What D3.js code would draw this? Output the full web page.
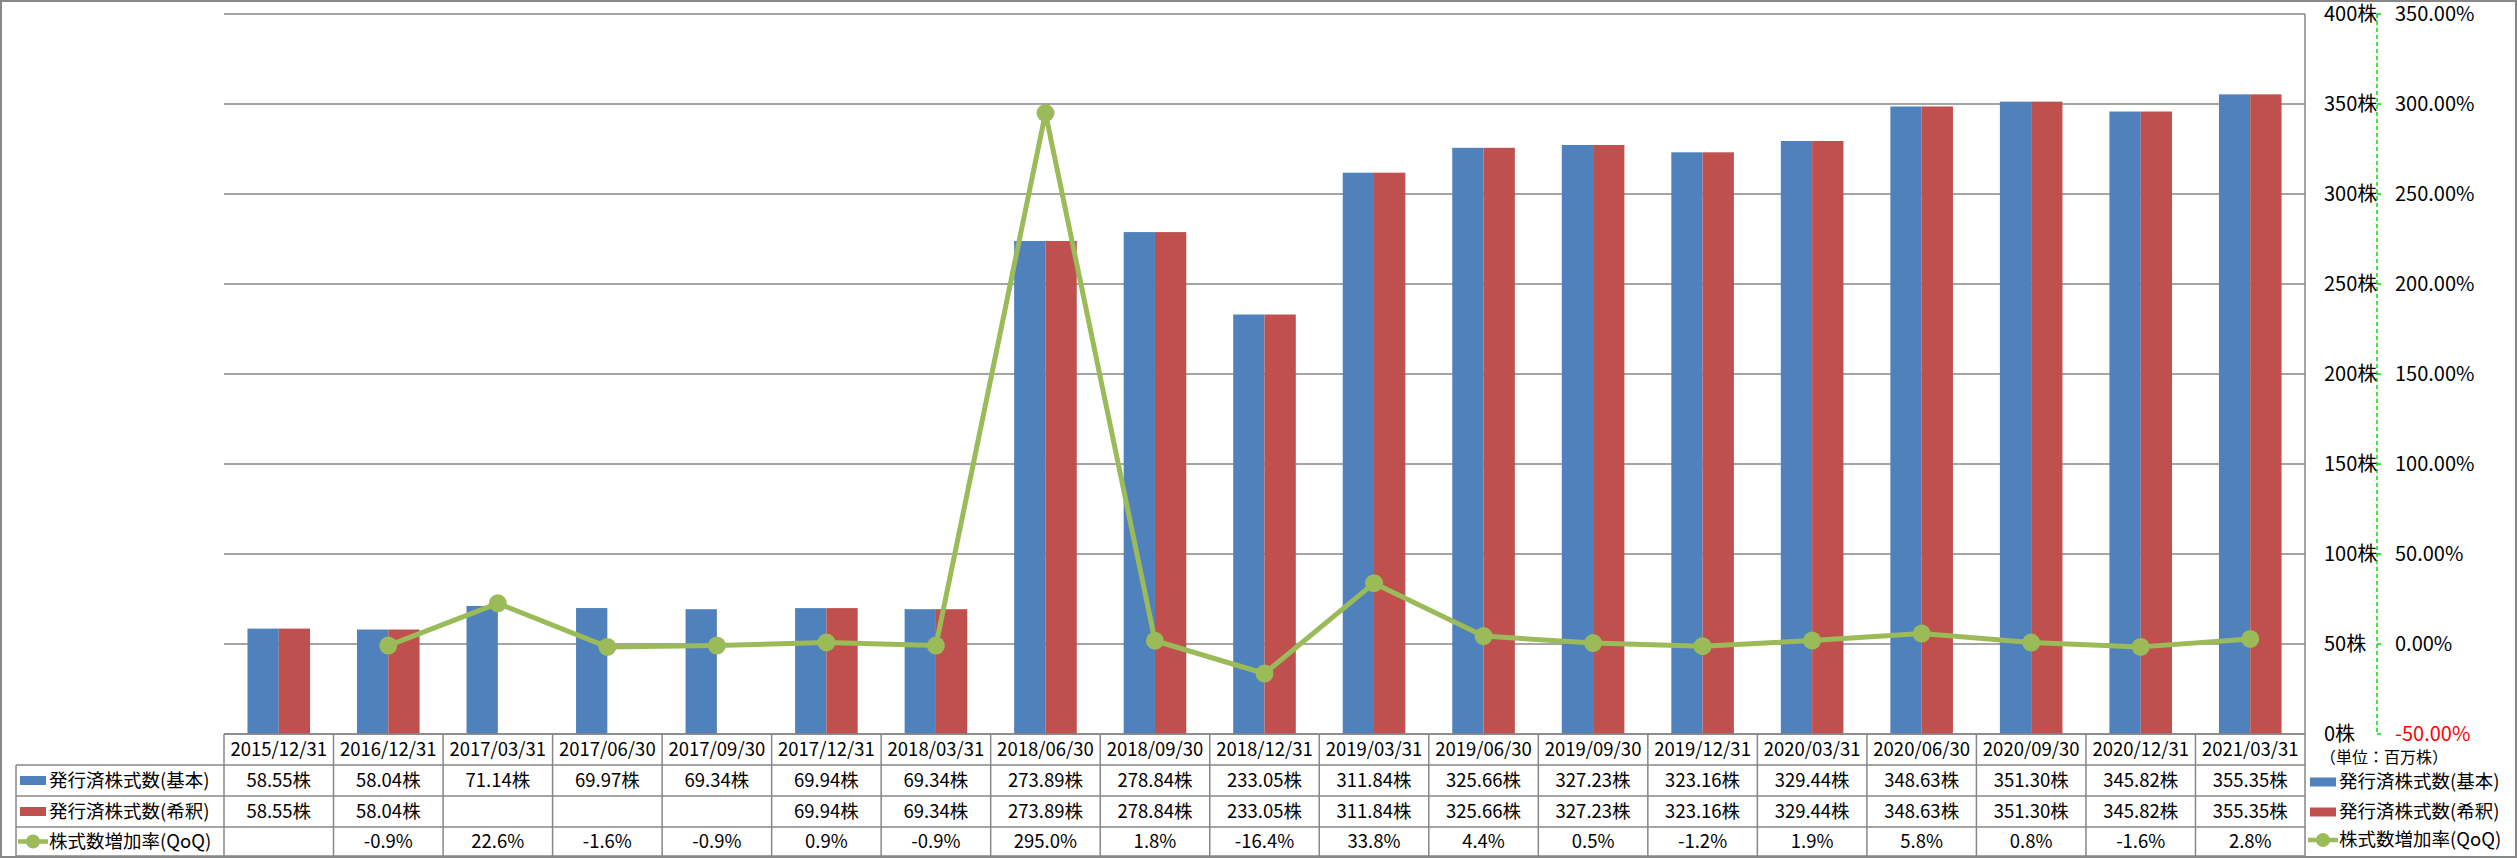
<!DOCTYPE html>
<html><head><meta charset="utf-8">
<script src="https://cdn.jsdelivr.net/npm/d3@7"></script>
<style>html,body{margin:0;padding:0;background:#fff;}svg{display:block;}</style>
</head><body>
<svg id="c" width="2517" height="858"></svg>
<script>
const categories = ["2015/12/31","2016/12/31","2017/03/31","2017/06/30","2017/09/30","2017/12/31","2018/03/31","2018/06/30","2018/09/30","2018/12/31","2019/03/31","2019/06/30","2019/09/30","2019/12/31","2020/03/31","2020/06/30","2020/09/30","2020/12/31","2021/03/31"];
const sharesBasic = [58.55,58.04,71.14,69.97,69.34,69.94,69.34,273.89,278.84,233.05,311.84,325.66,327.23,323.16,329.44,348.63,351.30,345.82,355.35];
const sharesDiluted = [58.55,58.04,null,null,null,69.94,69.34,273.89,278.84,233.05,311.84,325.66,327.23,323.16,329.44,348.63,351.30,345.82,355.35];
const growthQoQ = [null,-0.9,22.6,-1.6,-0.9,0.9,-0.9,295.0,1.8,-16.4,33.8,4.4,0.5,-1.2,1.9,5.8,0.8,-1.6,2.8];
const seriesNames = ["発行済株式数(基本)","発行済株式数(希釈)","株式数増加率(QoQ)"];
const leftTicks = [0,50,100,150,200,250,300,350,400];
const rightTicks = [-50,0,50,100,150,200,250,300,350];
const unitLabel = "（単位：百万株）";

const colors = {basic:"#4F81BD", diluted:"#C0504D", growth:"#9BBB59", grid:"#878787"};
const FONT = "'Noto Sans CJK JP', 'Noto Sans', sans-serif";

const svg = d3.select("#c");
const L = 224, R = 2305, T = 14, B = 734;
const rowH = [734, 765, 796, 827, 856];
const tableLeft = 16;

const x = d3.scaleBand().domain(categories).range([L, R]).paddingInner(0).paddingOuter(0);
const x1 = d3.scaleBand().domain(["basic","diluted"]).range([0, x.bandwidth()]).paddingInner(0).paddingOuter(0.75);
const y = d3.scaleLinear().domain([0,400]).range([B, T]);
const y2 = d3.scaleLinear().domain([-50,350]).range([B, T]);

// outer border
svg.append("rect").attr("x",1).attr("y",1).attr("width",2515).attr("height",856)
  .attr("fill","none").attr("stroke",colors.grid).attr("stroke-width",2);

// gridlines
svg.append("g").selectAll("line").data(leftTicks).join("line")
  .attr("x1",L).attr("x2",R).attr("y1",d=>y(d)).attr("y2",d=>y(d))
  .attr("stroke",colors.grid).attr("stroke-width",1.5);
svg.append("line").attr("x1",R).attr("x2",R).attr("y1",T).attr("y2",B).attr("stroke",colors.grid).attr("stroke-width",1.5);

// bars
const gb = svg.append("g");
categories.forEach((c,i)=>{
  [["basic",sharesBasic[i]],["diluted",sharesDiluted[i]]].forEach(([k,v])=>{
    if(v==null) return;
    gb.append("rect").attr("x",x(c)+x1(k)).attr("width",x1.bandwidth())
      .attr("y",y(v)).attr("height",y(0)-y(v)).attr("fill",colors[k]);
  });
});

// line
const pts = categories.map((c,i)=>({c, v:growthQoQ[i]})).filter(d=>d.v!=null);
const line = d3.line().x(d=>x(d.c)+x.bandwidth()/2).y(d=>y2(d.v));
svg.append("path").attr("d",line(pts)).attr("fill","none").attr("stroke",colors.growth)
  .attr("stroke-width",5).attr("stroke-linejoin","round");
svg.append("g").selectAll("circle").data(pts).join("circle")
  .attr("cx",d=>x(d.c)+x.bandwidth()/2).attr("cy",d=>y2(d.v)).attr("r",9).attr("fill",colors.growth);

// secondary green dashed axis
const AX = 2377;
svg.append("line").attr("x1",AX).attr("x2",AX).attr("y1",T).attr("y2",B)
  .attr("stroke","#00E000").attr("stroke-width",1.5).attr("stroke-dasharray","4,3");
svg.append("g").selectAll("line").data(rightTicks).join("line")
  .attr("x1",AX).attr("x2",AX+4).attr("y1",d=>y2(d)).attr("y2",d=>y2(d))
  .attr("stroke","#00E000").attr("stroke-width",1.5);

// axis labels
svg.append("g").selectAll("text").data(leftTicks).join("text")
  .attr("x",2324).attr("y",d=>y(d)).attr("dy","0.35em")
  .attr("font-family",FONT).attr("font-size",20).attr("fill","#000")
  .text(d=>d+"株");
svg.append("g").selectAll("text").data(rightTicks).join("text")
  .attr("x",2395).attr("y",d=>y2(d)).attr("dy","0.35em")
  .attr("font-family",FONT).attr("font-size",20).attr("fill",d=>d<0?"#FF0000":"#000")
  .text(d=>d.toFixed(2)+"%");

// table
const gt = svg.append("g");
gt.append("line").attr("x1",L).attr("x2",R).attr("y1",rowH[0]).attr("y2",rowH[0]).attr("stroke",colors.grid).attr("stroke-width",1.5);
for(let r=1;r<rowH.length;r++){
  gt.append("line").attr("x1",tableLeft).attr("x2",R).attr("y1",rowH[r]).attr("y2",rowH[r]).attr("stroke",colors.grid).attr("stroke-width",1.5);
}
const bounds = categories.map(c=>x(c)).concat([R]);
bounds.forEach(bx=>{
  gt.append("line").attr("x1",bx).attr("x2",bx).attr("y1",rowH[0]).attr("y2",rowH[4]).attr("stroke",colors.grid).attr("stroke-width",1.5);
});
gt.append("line").attr("x1",tableLeft).attr("x2",tableLeft).attr("y1",rowH[1]).attr("y2",rowH[4]).attr("stroke",colors.grid).attr("stroke-width",1.5);

const rowMid = r => (rowH[r]+rowH[r+1])/2;
const fs = 18.5;
gt.append("g").selectAll("text").data(categories).join("text")
  .attr("x",d=>x(d)+x.bandwidth()/2).attr("y",rowMid(0)).attr("dy","0.35em").attr("text-anchor","middle")
  .attr("font-family",FONT).attr("font-size",fs).text(d=>d);
const rows = [
  sharesBasic.map(v=>v==null?"":v.toFixed(2)+"株"),
  sharesDiluted.map(v=>v==null?"":v.toFixed(2)+"株"),
  growthQoQ.map(v=>v==null?"":v.toFixed(1)+"%")
];
rows.forEach((vals,r)=>{
  gt.append("g").selectAll("text").data(vals).join("text")
    .attr("x",(d,i)=>x(categories[i])+x.bandwidth()/2).attr("y",rowMid(r+1)).attr("dy","0.35em").attr("text-anchor","middle")
    .attr("font-family",FONT).attr("font-size",fs).text(d=>d);
});

function legendKey(g, k, lx, cy){
  if(k<2){
    g.append("rect").attr("x",lx).attr("y",cy-4.5).attr("width",26).attr("height",9).attr("fill",k===0?colors.basic:colors.diluted);
  } else {
    g.append("line").attr("x1",lx-2).attr("x2",lx+28).attr("y1",cy).attr("y2",cy).attr("stroke",colors.growth).attr("stroke-width",4.5);
    g.append("circle").attr("cx",lx+13).attr("cy",cy).attr("r",7).attr("fill",colors.growth);
  }
}
seriesNames.forEach((n,k)=>{
  const cy = rowMid(k+1);
  legendKey(gt, k, 20, cy);
  gt.append("text").attr("x",49).attr("y",cy).attr("dy","0.35em").attr("font-family",FONT).attr("font-size",fs).text(n);
});

// right legend
svg.append("text").attr("x",2320).attr("y",757).attr("dy","0.35em").attr("font-family",FONT).attr("font-size",16).text(unitLabel);
const legY = [782, 812, 840];
seriesNames.forEach((n,k)=>{
  legendKey(svg, k, 2310, legY[k]);
  svg.append("text").attr("x",2339).attr("y",legY[k]).attr("dy","0.35em").attr("font-family",FONT).attr("font-size",fs).text(n);
});
</script>
</body></html>
